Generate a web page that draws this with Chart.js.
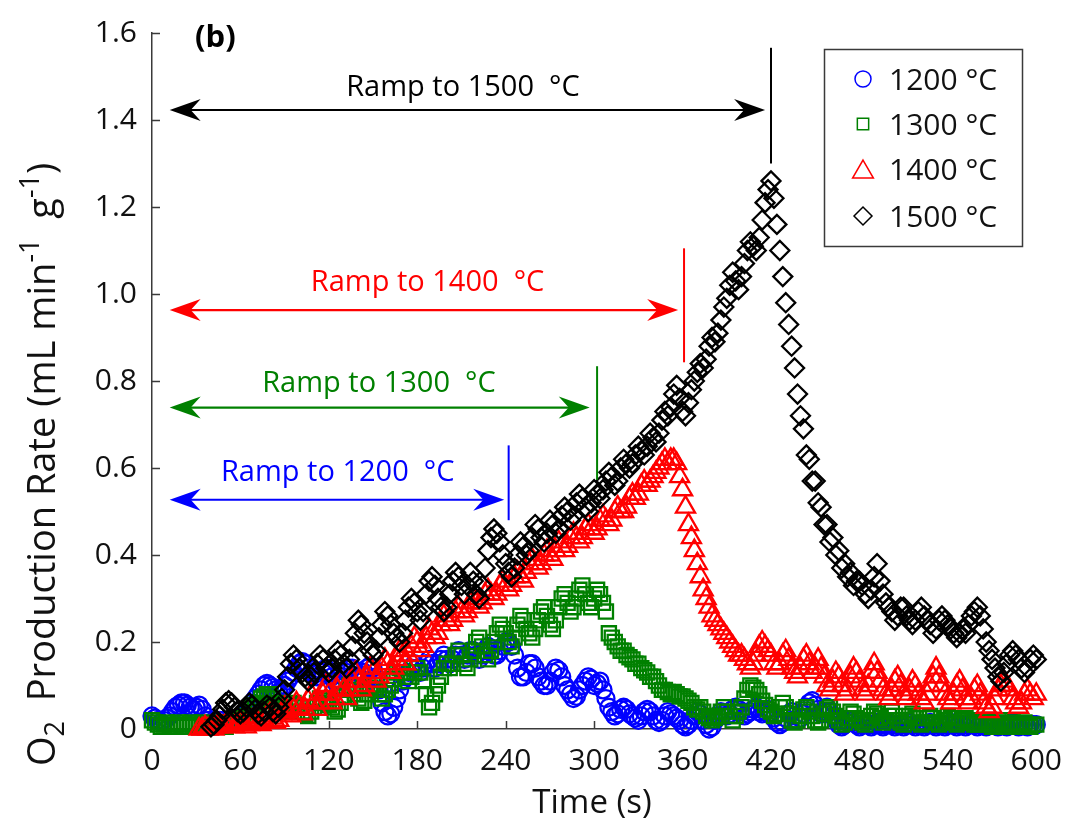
<!DOCTYPE html>
<html>
<head>
<meta charset="utf-8">
<title>O2 production rate</title>
<script src="https://cdn.jsdelivr.net/npm/chart.js@4.4.1/dist/chart.umd.min.js"></script>
<style>
  html, body { margin: 0; padding: 0; background: #fff; }
  #wrap { width: 1076px; height: 822px; }
</style>
</head>
<body>
<div id="wrap"><canvas id="c" width="1076" height="822"></canvas></div>
<script>
// time axis (s), one reading every 2 s, rows of 20 s
const TIME = [
  0,2,4,6,8,10,12,14,16,18,             20,22,24,26,28,30,32,34,36,38,
  40,42,44,46,48,50,52,54,56,58,        60,62,64,66,68,70,72,74,76,78,
  80,82,84,86,88,90,92,94,96,98,        100,102,104,106,108,110,112,114,116,118,
  120,122,124,126,128,130,132,134,136,138, 140,142,144,146,148,150,152,154,156,158,
  160,162,164,166,168,170,172,174,176,178, 180,182,184,186,188,190,192,194,196,198,
  200,202,204,206,208,210,212,214,216,218, 220,222,224,226,228,230,232,234,236,238,
  240,242,244,246,248,250,252,254,256,258, 260,262,264,266,268,270,272,274,276,278,
  280,282,284,286,288,290,292,294,296,298, 300,302,304,306,308,310,312,314,316,318,
  320,322,324,326,328,330,332,334,336,338, 340,342,344,346,348,350,352,354,356,358,
  360,362,364,366,368,370,372,374,376,378, 380,382,384,386,388,390,392,394,396,398,
  400,402,404,406,408,410,412,414,416,418, 420,422,424,426,428,430,432,434,436,438,
  440,442,444,446,448,450,452,454,456,458, 460,462,464,466,468,470,472,474,476,478,
  480,482,484,486,488,490,492,494,496,498, 500,502,504,506,508,510,512,514,516,518,
  520,522,524,526,528,530,532,534,536,538, 540,542,544,546,548,550,552,554,556,558,
  560,562,564,566,568,570,572,574,576,578, 580,582,584,586,588,590,592,594,596,598,
  600
];

// O2 production rate (mL min-1 g-1); null = no visible reading
const RATE_1200 = [
  0.03,0.025,0.02,0.015,0.02,0.025,0.03,0.04,0.05,0.055,
  0.06,0.06,0.055,0.05,0.045,0.05,0.055,0.045,0.03,0.02,
  0.015,0.01,0.015,0.02,0.02,0.015,0.01,0.015,0.02,0.025,
  0.03,0.035,0.045,0.05,0.06,0.07,0.08,0.09,0.1,0.105,
  0.1,0.095,0.09,0.085,0.09,0.1,0.11,0.12,0.13,0.14,
  0.15,0.155,0.15,0.14,0.13,0.125,0.12,0.12,0.13,0.14,
  0.13,0.12,0.11,0.1,0.11,0.12,0.13,0.14,0.14,0.13,
  0.12,0.125,0.13,0.14,0.145,0.14,0.12,0.09,0.06,0.04,
  0.03,0.035,0.05,0.07,0.09,0.11,0.12,0.13,0.14,0.15,
  0.14,0.13,0.14,0.15,0.16,0.15,0.14,0.15,0.16,0.17,
  0.16,0.15,0.16,0.17,0.18,0.17,0.16,0.17,0.18,0.18,
  0.17,0.16,0.17,0.18,0.19,0.18,0.17,0.17,0.18,0.19,
  0.2,0.2,0.19,0.17,0.14,0.12,0.12,0.13,0.15,0.15,
  0.14,0.12,0.11,0.1,0.1,0.11,0.13,0.14,0.135,0.12,
  0.1,0.09,0.08,0.07,0.075,0.09,0.1,0.11,0.12,0.115,
  0.1,0.105,0.11,0.09,0.07,0.05,0.04,0.03,0.035,0.045,
  0.05,0.045,0.035,0.03,0.025,0.02,0.03,0.04,0.045,0.04,
  0.03,0.02,0.015,0.02,0.03,0.04,0.035,0.03,0.025,0.02,
  0.01,0.005,0.01,0.02,0.03,0.04,0.035,0.02,0.01,0,
  0.005,0.02,0.03,0.04,0.035,0.03,0.035,0.045,0.05,0.045,
  0.04,0.03,0.035,0.04,0.045,0.05,0.04,0.035,0.04,0.045,
  0.035,0.025,0.015,0.01,0.015,0.025,0.035,0.04,0.03,0.02,
  0.025,0.035,0.05,0.06,0.065,0.055,0.045,0.035,0.04,0.05,
  0.04,0.03,0.02,0.01,0.005,0.01,0.015,0.02,0.015,0.01,
  0.005,0.01,0.015,0.01,0.005,0.01,0.015,0.01,0.005,0.01,
  0.015,0.01,0.005,0.01,0.01,0.005,0.01,0.015,0.01,0.005,
  0.01,0.01,0.005,0.01,0.015,0.01,0.005,0.01,0.01,0.005,
  0.01,0.015,0.01,0.005,0.01,0.01,0.005,0.01,0.015,0.01,
  0.005,0.01,0.01,0.005,0.01,0.015,0.01,0.005,0.01,0.01,
  0.005,0.01,0.015,0.01,0.005,0.01,0.01,0.005,0.01,0.01,
  0.01
];
const RATE_1300 = [
  0.02,0.015,0.01,0.005,0.01,0.015,0.01,0.005,0.01,0.015,
  0.01,0.005,0.01,0.015,0.01,0.005,0.01,0.015,0.01,0.005,
  0.01,0.005,0.01,0.015,0.01,0.005,0.01,0.015,0.02,0.015,
  0.02,0.025,0.03,0.04,0.05,0.055,0.06,0.07,0.075,0.08,
  0.08,0.07,0.06,0.055,0.05,0.045,0.04,0.05,0.06,0.055,
  0.05,0.04,0.035,0.03,0.04,0.05,0.06,0.07,0.065,0.06,
  0.055,0.05,0.04,0.045,0.06,0.075,0.09,0.1,0.09,0.08,
  0.07,0.06,0.065,0.08,0.095,0.1,0.09,0.08,0.07,0.08,
  0.09,0.1,0.115,0.13,0.14,0.13,0.12,0.11,0.12,0.13,
  0.14,0.13,0.11,0.08,0.05,0.06,0.08,0.1,0.12,0.14,
  0.15,0.14,0.15,0.17,0.18,0.17,0.15,0.14,0.16,0.18,
  0.2,0.21,0.19,0.17,0.16,0.18,0.2,0.22,0.24,0.23,
  0.22,0.2,0.19,0.21,0.24,0.26,0.25,0.23,0.22,0.21,
  0.23,0.25,0.27,0.28,0.26,0.24,0.23,0.25,0.28,0.3,
  0.31,0.29,0.27,0.28,0.3,0.32,0.33,0.31,0.29,0.28,
  0.3,0.32,0.31,0.29,0.27,0.22,0.21,0.2,0.19,0.18,
  0.18,0.17,0.165,0.16,0.15,0.15,0.14,0.135,0.13,0.12,
  0.12,0.11,0.1,0.09,0.09,0.085,0.08,0.085,0.08,0.075,
  0.075,0.07,0.065,0.06,0.05,0.045,0.05,0.04,0.03,0.025,
  0.02,0.025,0.03,0.04,0.05,0.04,0.03,0.02,0.03,0.04,
  0.05,0.07,0.09,0.1,0.095,0.09,0.08,0.065,0.055,0.045,
  0.04,0.03,0.035,0.05,0.06,0.05,0.035,0.02,0.015,0.02,
  0.03,0.045,0.05,0.04,0.03,0.02,0.015,0.02,0.035,0.045,
  0.05,0.04,0.03,0.02,0.01,0.015,0.025,0.04,0.035,0.025,
  0.02,0.015,0.01,0.02,0.03,0.04,0.035,0.025,0.015,0.02,
  0.03,0.04,0.03,0.02,0.015,0.01,0.02,0.03,0.035,0.025,
  0.015,0.01,0.015,0.025,0.03,0.025,0.015,0.01,0.015,0.02,
  0.03,0.025,0.015,0.01,0.015,0.02,0.025,0.02,0.015,0.01,
  0.01,0.015,0.02,0.015,0.01,0.005,0.01,0.015,0.02,0.01,
  0.005,0.01,0.015,0.01,0.005,0.01,0.015,0.01,0.005,0.01,
  0.01
];
const RATE_1400 = [
  null,null,null,null,null,null,null,null,null,null,
  null,null,null,null,null,null,0,0,0.005,0,
  0.005,0,0.005,0.01,0.005,0.01,0.015,0.01,0.005,0.01,
  0.015,0.01,0.005,0.01,0.02,0.025,0.015,0.01,0.02,0.03,
  0.035,0.025,0.015,0.02,0.035,0.05,0.04,0.03,0.045,0.06,
  0.05,0.035,0.045,0.065,0.08,0.06,0.045,0.06,0.08,0.1,
  0.08,0.06,0.07,0.09,0.11,0.09,0.07,0.09,0.11,0.13,
  0.11,0.09,0.1,0.12,0.14,0.13,0.11,0.12,0.14,0.16,
  0.15,0.13,0.14,0.16,0.18,0.17,0.15,0.17,0.19,0.21,
  0.2,0.18,0.19,0.21,0.23,0.22,0.21,0.22,0.24,0.26,
  0.25,0.24,0.25,0.27,0.28,0.27,0.26,0.27,0.29,0.3,
  0.29,0.28,0.29,0.31,0.32,0.31,0.3,0.31,0.33,0.34,
  0.33,0.32,0.33,0.35,0.36,0.35,0.34,0.36,0.38,0.39,
  0.38,0.37,0.38,0.4,0.41,0.4,0.39,0.41,0.43,0.42,
  0.41,0.42,0.44,0.45,0.44,0.43,0.44,0.46,0.47,0.46,
  0.45,0.46,0.48,0.49,0.48,0.47,0.48,0.5,0.51,0.5,
  0.5,0.51,0.53,0.54,0.53,0.54,0.56,0.57,0.56,0.57,
  0.58,0.59,0.6,0.61,0.62,0.61,0.62,0.62,0.61,0.58,
  0.55,0.51,0.47,0.44,0.41,0.38,0.35,0.32,0.3,0.28,
  0.26,0.25,0.24,0.23,0.22,0.21,0.2,0.19,0.18,0.17,
  0.17,0.16,0.15,0.14,0.15,0.17,0.19,0.2,0.19,0.18,
  0.17,0.15,0.14,0.15,0.17,0.18,0.16,0.14,0.13,0.12,
  0.14,0.16,0.17,0.15,0.13,0.14,0.16,0.14,0.12,0.1,
  0.09,0.11,0.13,0.12,0.1,0.08,0.09,0.12,0.14,0.13,
  0.11,0.09,0.08,0.1,0.13,0.15,0.13,0.11,0.09,0.08,
  0.07,0.09,0.11,0.12,0.1,0.08,0.07,0.09,0.11,0.1,
  0.08,0.07,0.06,0.08,0.1,0.12,0.14,0.12,0.1,0.08,
  0.07,0.06,0.08,0.1,0.11,0.09,0.07,0.06,0.07,0.09,
  0.1,0.08,0.06,0.05,0.04,0.05,0.07,0.09,0.1,0.11,
  0.1,0.09,0.07,0.06,0.05,0.06,0.08,0.09,0.08,0.07,
  0.08
];
const RATE_1500 = [
  null,null,null,null,null,null,null,null,null,null,
  null,null,null,null,null,null,null,null,null,null,
  0.005,0.01,0.02,0.03,0.045,0.06,0.065,0.06,0.05,0.04,
  0.035,0.04,0.05,0.06,0.055,0.045,0.035,0.03,0.04,0.055,
  0.05,0.04,0.035,0.05,0.07,0.09,0.12,0.15,0.17,0.16,
  0.14,0.13,0.12,0.11,0.12,0.13,0.15,0.17,0.16,0.14,
  0.13,0.14,0.16,0.18,0.17,0.15,0.14,0.16,0.19,0.22,
  0.25,0.24,0.22,0.2,0.18,0.17,0.18,0.21,0.24,0.27,
  0.26,0.24,0.22,0.21,0.2,0.22,0.25,0.28,0.3,0.29,
  0.27,0.25,0.27,0.31,0.34,0.35,0.33,0.3,0.28,0.27,
  0.28,0.31,0.34,0.36,0.35,0.33,0.31,0.33,0.36,0.34,
  0.31,0.3,0.33,0.37,0.41,0.44,0.46,0.45,0.43,0.4,
  0.38,0.36,0.35,0.37,0.4,0.43,0.42,0.4,0.41,0.44,
  0.47,0.46,0.44,0.43,0.45,0.48,0.47,0.45,0.46,0.49,
  0.51,0.5,0.48,0.49,0.52,0.54,0.53,0.51,0.5,0.52,
  0.55,0.54,0.53,0.55,0.57,0.59,0.58,0.56,0.57,0.6,
  0.62,0.61,0.6,0.61,0.63,0.65,0.64,0.63,0.65,0.68,
  0.67,0.66,0.68,0.71,0.73,0.72,0.74,0.77,0.79,0.76,
  0.73,0.72,0.75,0.78,0.8,0.82,0.84,0.83,0.85,0.88,
  0.9,0.89,0.91,0.94,0.97,0.99,1.02,1.05,1.03,1.01,
  1.04,1.07,1.1,1.12,1.11,1.1,1.13,1.17,1.21,1.24,
  1.26,1.22,1.16,1.1,1.04,0.98,0.93,0.88,0.83,0.77,
  0.72,0.69,0.63,0.62,0.57,0.57,0.52,0.51,0.47,0.47,
  0.43,0.44,0.4,0.41,0.37,0.38,0.35,0.36,0.33,0.34,
  0.34,0.33,0.31,0.3,0.32,0.35,0.38,0.34,0.31,0.29,
  0.28,0.27,0.25,0.26,0.28,0.28,0.26,0.25,0.24,0.25,
  0.27,0.28,0.26,0.25,0.24,0.22,0.23,0.25,0.26,0.25,
  0.24,0.23,0.22,0.21,0.22,0.23,0.22,0.24,0.26,0.27,
  0.28,0.26,0.23,0.2,0.18,0.16,0.14,0.12,0.11,0.13,
  0.15,0.17,0.18,0.17,0.16,0.14,0.13,0.14,0.16,0.17,
  0.16
];

const SERIES_LABELS = ['1200 °C', '1300 °C', '1400 °C', '1500 °C'];
const X_TICKS = [0, 60, 120, 180, 240, 300, 360, 420, 480, 540, 600];
const Y_TICKS = [0, 0.2, 0.4, 0.6, 0.8, 1.0, 1.2, 1.4, 1.6];

// ramp annotations, in data units (s, mL min-1 g-1)
const RAMP_TEXT  = ['Ramp to 1200  °C', 'Ramp to 1300  °C', 'Ramp to 1400  °C', 'Ramp to 1500  °C'];
const RAMP_START = [12, 12, 12, 12];
const RAMP_TIP   = [239, 297, 357, 416];
const RAMP_LEVEL = [0.527, 0.739, 0.963, 1.423];
const RAMP_LABEL_X = [126, 154, 187, 211];
const RAMP_LABEL_Y = [0.589, 0.793, 1.025, 1.475];
const RAMP_END   = [242, 302, 361, 420];
const RAMP_END_LO = [0.48, 0.573, 0.843, 1.30];
const RAMP_END_HI = [0.652, 0.834, 1.105, 1.566];

const COLORS = ['#0000ff', '#008000', '#ff0000', '#000000'];
const POINT_STYLE = ['circle', 'rect', 'triangle', 'rectRot'];
const POINT_RADIUS = [8.5, 10, 11, 9.5];
const AXIS_COLOR = '#3a3a3a';
const FONT = '"Open Sans", "DejaVu Sans", sans-serif';

const RATES = [RATE_1200, RATE_1300, RATE_1400, RATE_1500];

function toPoints(values) {
  return TIME.map((t, i) => ({ x: t, y: values[i] }));
}

const datasets = RATES.map((vals, k) => ({
  label: SERIES_LABELS[k],
  data: toPoints(vals),
  showLine: false,
  pointStyle: POINT_STYLE[k],
  pointRadius: POINT_RADIUS[k],
  pointBorderWidth: 2.3,
  pointBorderColor: COLORS[k],
  pointBackgroundColor: 'rgba(0,0,0,0)',
  clip: false,
  order: 4 - k,          // 1500 drawn last, on top
}));

// inward tick marks
const inwardTicks = {
  id: 'inwardTicks',
  beforeDatasetsDraw(chart) {
    const { ctx, chartArea: a, scales: { x, y } } = chart;
    ctx.save();
    ctx.strokeStyle = AXIS_COLOR;
    ctx.lineWidth = 1.5;
    ctx.beginPath();
    X_TICKS.forEach(v => {
      const px = Math.round(x.getPixelForValue(v)) + 0.5;
      ctx.moveTo(px, a.bottom);
      ctx.lineTo(px, a.bottom - 8);
    });
    Y_TICKS.forEach(v => {
      const py = Math.round(y.getPixelForValue(v)) + 0.5;
      ctx.moveTo(a.left, py);
      ctx.lineTo(a.left + 8, py);
    });
    ctx.stroke();
    ctx.restore();
  }
};

function arrowHead(ctx, tipX, y, dir) {
  // dir = 1 points right, -1 points left
  const L = 31, N = 21, W = 11;
  ctx.beginPath();
  ctx.moveTo(tipX, y);
  ctx.lineTo(tipX - dir * L, y - W);
  ctx.lineTo(tipX - dir * N, y);
  ctx.lineTo(tipX - dir * L, y + W);
  ctx.closePath();
  ctx.fill();
}

// ramp arrows, end markers, labels
const ramps = {
  id: 'ramps',
  afterDatasetsDraw(chart) {
    const { ctx, scales: { x, y } } = chart;
    ctx.save();
    ctx.font = '29px ' + FONT;
    ctx.textAlign = 'center';
    ctx.textBaseline = 'middle';
    RAMP_TEXT.forEach((txt, k) => {
      const c = COLORS[k];
      const yy = y.getPixelForValue(RAMP_LEVEL[k]);
      const x0 = x.getPixelForValue(RAMP_START[k]);
      const x1 = x.getPixelForValue(RAMP_TIP[k]);
      ctx.strokeStyle = c;
      ctx.fillStyle = c;
      ctx.lineWidth = 2.2;
      ctx.beginPath();
      ctx.moveTo(x0 + 20, yy);
      ctx.lineTo(x1 - 20, yy);
      ctx.stroke();
      arrowHead(ctx, x0, yy, -1);
      arrowHead(ctx, x1, yy, 1);

      const xe = x.getPixelForValue(RAMP_END[k]);
      ctx.lineWidth = 2;
      ctx.beginPath();
      ctx.moveTo(xe, y.getPixelForValue(RAMP_END_LO[k]));
      ctx.lineTo(xe, y.getPixelForValue(RAMP_END_HI[k]));
      ctx.stroke();

      ctx.fillText(txt, x.getPixelForValue(RAMP_LABEL_X[k]), y.getPixelForValue(RAMP_LABEL_Y[k]));
    });

    // panel letter
    ctx.fillStyle = '#000';
    ctx.font = 'bold 31px ' + FONT;
    ctx.fillText('(b)', x.getPixelForValue(43), y.getPixelForValue(1.588));
    ctx.restore();
  }
};

// axis titles (with sub/superscripts) and the legend box
const titlesAndLegend = {
  id: 'titlesAndLegend',
  afterDraw(chart) {
    const { ctx } = chart;
    ctx.save();
    ctx.fillStyle = '#111';

    // x title
    ctx.font = '33px ' + FONT;
    ctx.textAlign = 'center';
    ctx.textBaseline = 'alphabetic';
    ctx.fillText('Time (s)', 592, 813);

    // y title, rotated, written bottom to top from y = 766
    const parts = [
      ['O', 0], ['2', -1], ['  Production Rate (mL min', 0], ['-1', 1], ['  g', 0], ['-1', 1], [')', 0]
    ];
    const big = '38px ' + FONT, small = '27px ' + FONT;
    ctx.translate(55, 766);
    ctx.rotate(-Math.PI / 2);
    ctx.textAlign = 'left';
    let cx = 0;
    parts.forEach(p => {
      ctx.font = p[1] ? small : big;
      const dy = p[1] === 1 ? -16 : p[1] === -1 ? 9 : 0;
      ctx.fillText(p[0], cx, dy);
      cx += ctx.measureText(p[0]).width;
    });
    ctx.restore();

    // legend
    ctx.save();
    ctx.strokeStyle = AXIS_COLOR;
    ctx.lineWidth = 1.5;
    ctx.strokeRect(824.5, 49.5, 198, 197);
    const rows = [79, 124, 169, 216];
    ctx.font = '30px ' + FONT;
    ctx.textAlign = 'left';
    ctx.textBaseline = 'middle';
    const legendRadius = [8, 8, 12, 9];
    SERIES_LABELS.forEach((lab, k) => {
      ctx.strokeStyle = COLORS[k];
      ctx.fillStyle = 'rgba(0,0,0,0)';
      Chart.helpers.drawPoint(ctx, {
        pointStyle: POINT_STYLE[k],
        radius: legendRadius[k],
        rotation: 0,
        borderWidth: 2.3
      }, 863, rows[k] + (k === 2 ? 3 : 0));
      ctx.fillStyle = '#111';
      ctx.fillText(lab, 889, rows[k] + 2);
    });
    ctx.restore();
  }
};

new Chart(document.getElementById('c'), {
  type: 'scatter',
  data: { datasets },
  options: {
    responsive: false,
    animation: false,
    events: [],
    layout: { padding: { top: 25, right: 32, left: 0, bottom: 0 } },
    plugins: {
      legend: { display: false },
      tooltip: { enabled: false },
      title: { display: false }
    },
    scales: {
      x: {
        type: 'linear',
        min: 0,
        max: 600,
        afterBuildTicks: s => { s.ticks = X_TICKS.map(v => ({ value: v })); },
        afterFit: s => { s.height = 93; },
        grid: { display: false, drawTicks: false },
        border: { display: true, color: AXIS_COLOR, width: 1.5 },
        ticks: {
          color: '#111',
          padding: 14,
          maxRotation: 0,
          autoSkip: false,
          font: { family: FONT, size: 30 },
          callback: v => String(v)
        }
      },
      y: {
        type: 'linear',
        min: 0,
        max: 1.6,
        afterBuildTicks: s => { s.ticks = Y_TICKS.map(v => ({ value: v })); },
        afterFit: s => { s.width = 152; },
        grid: { display: false, drawTicks: false },
        border: { display: true, color: AXIS_COLOR, width: 1.5 },
        ticks: {
          color: '#111',
          padding: 15,
          autoSkip: false,
          font: { family: FONT, size: 30 },
          callback: v => (v === 0 ? '0' : v.toFixed(1))
        }
      }
    }
  },
  plugins: [inwardTicks, ramps, titlesAndLegend]
});
</script>
</body>
</html>
